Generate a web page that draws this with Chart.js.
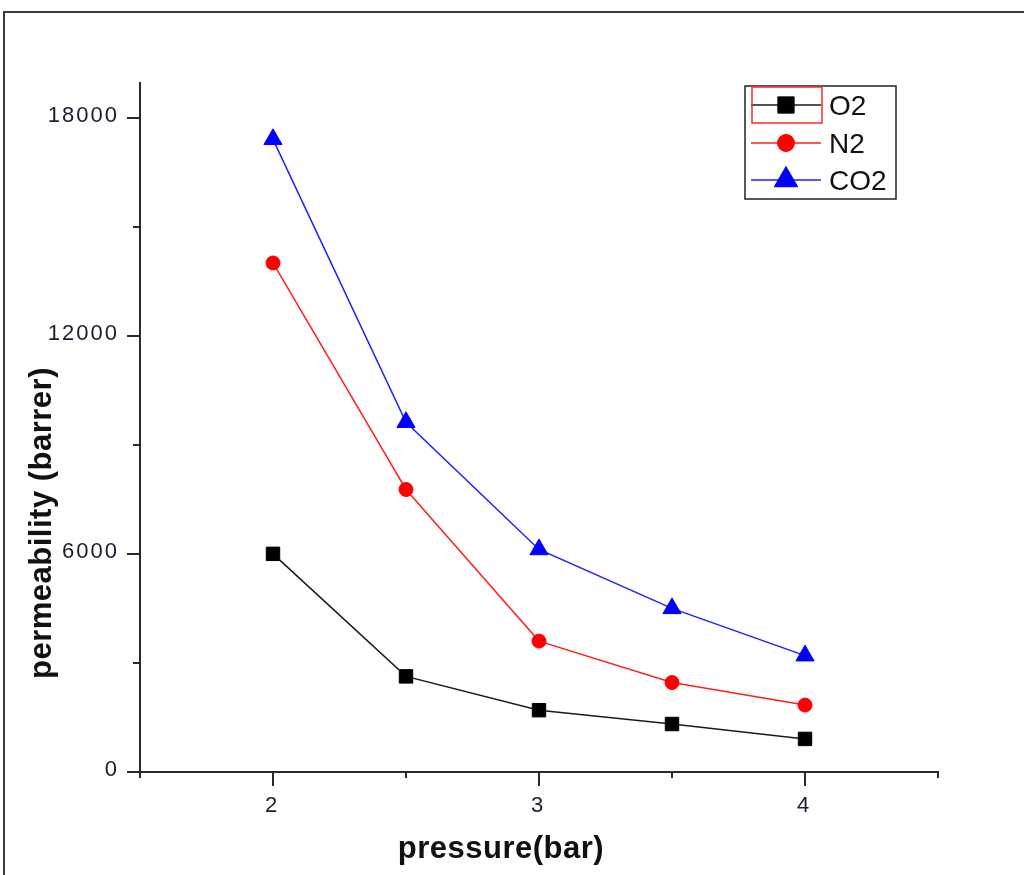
<!DOCTYPE html>
<html>
<head>
<meta charset="utf-8">
<script src="https://cdn.jsdelivr.net/npm/chart.js@4.4.0/dist/chart.umd.min.js"></script>
<style>
  html, body { margin: 0; padding: 0; background: #fff; overflow: hidden; }
  #wrap { position: relative; width: 1024px; height: 875px; }
  #frame { position: absolute; left: 3px; top: 11px; width: 1100px; height: 1000px;
           border-top: 2px solid #3a3a3a; border-left: 2px solid #3a3a3a; }
  #c { position: absolute; left: 0; top: 0; }
</style>
</head>
<body>
<div id="wrap">
  <div id="frame"></div>
  <canvas id="c" width="1024" height="875"></canvas>
</div>
<script>
// ---- data ----
const pressure = [2, 2.5, 3, 3.5, 4];
const seriesNames = ['O2', 'N2', 'CO2'];
const o2Values  = [6000, 2630, 1700, 1320, 910];
const n2Values  = [14000, 7770, 3600, 2460, 1840];
const co2Values = [17400, 9620, 6120, 4500, 3200];
const xRange = [1.5, 4.5];
const yRange = [0, 18950];
const xTickValues = [1.5, 2, 2.5, 3, 3.5, 4, 4.5];
const xMajorTicks = [2, 3, 4];
const yTickValues = [0, 3000, 6000, 9000, 12000, 15000, 18000];
const yMajorTicks = [0, 6000, 12000, 18000];
const xTitle = 'pressure(bar)';
const yTitle = 'permeability (barrer)';

const FONT = '"Liberation Sans", Arial, sans-serif';
const AXIS = '#2a2a2a';

function pts(vals) { return pressure.map((x, i) => ({ x: x, y: vals[i] })); }

const styles = [
  { color: '#000000', line: '#1a1a1a', pointStyle: 'rect', r: 9.5, lr: 11.5 },
  { color: '#ff0000', line: '#ff2020', pointStyle: 'circle', r: 7, lr: 8.5 },
  { color: '#0000ff', line: '#2020ff', pointStyle: 'triangle', r: 10.5, lr: 13.5 }
];
const allValues = [o2Values, n2Values, co2Values];

const datasets = allValues.map((vals, i) => ({
  label: seriesNames[i],
  data: pts(vals),
  borderColor: styles[i].line,
  backgroundColor: styles[i].color,
  borderWidth: 1.5,
  pointStyle: styles[i].pointStyle,
  pointRadius: styles[i].r,
  pointHoverRadius: styles[i].r,
  pointBackgroundColor: styles[i].color,
  pointBorderColor: styles[i].color,
  pointBorderWidth: 1,
  tension: 0,
  fill: false
}));

const decorPlugin = {
  id: 'decor',
  beforeDraw(chart) {
    chart.ctx.letterSpacing = '2px';
  },
  afterDraw(chart) {
    const ctx = chart.ctx;
    ctx.save();
    ctx.letterSpacing = '0px';
    // tick marks: major long, minor short
    const xs = chart.scales.x, ys = chart.scales.y;
    const area = chart.chartArea;
    ctx.fillStyle = AXIS;
    xTickValues.forEach(v => {
      const len = xMajorTicks.indexOf(v) !== -1 ? 14 : 6;
      const px = Math.round(xs.getPixelForValue(v));
      ctx.fillRect(px - 1, area.bottom, 2, len);
    });
    yTickValues.forEach(v => {
      const len = yMajorTicks.indexOf(v) !== -1 ? 13 : 7;
      const py = Math.round(ys.getPixelForValue(v));
      ctx.fillRect(area.left - len, py - 1, len, 2);
    });

    // axis titles
    ctx.fillStyle = '#111';
    ctx.font = 'bold 31px ' + FONT;
    ctx.letterSpacing = '0.5px';
    ctx.textAlign = 'center';
    ctx.textBaseline = 'alphabetic';
    ctx.fillText(xTitle, 501, 858);
    ctx.save();
    ctx.translate(51, 523);
    ctx.rotate(-Math.PI / 2);
    ctx.fillText(yTitle, 0, 0);
    ctx.restore();

    // legend
    ctx.letterSpacing = '0px';
    ctx.strokeStyle = '#222';
    ctx.lineWidth = 1.5;
    ctx.strokeRect(745, 86, 151, 113);
    const rows = [105, 143, 180];
    chart.data.datasets.forEach((ds, i) => {
      const y = rows[i];
      ctx.strokeStyle = ds.borderColor;
      ctx.lineWidth = 1.5;
      ctx.beginPath();
      ctx.moveTo(751, y);
      ctx.lineTo(821, y);
      ctx.stroke();
      ctx.fillStyle = ds.pointBackgroundColor;
      ctx.strokeStyle = ds.pointBorderColor;
      ctx.lineWidth = 1;
      Chart.helpers.drawPoint(ctx, { pointStyle: ds.pointStyle, radius: styles[i].lr, borderWidth: 1, rotation: 0 }, 786, y);
      ctx.fillStyle = '#111';
      ctx.font = '28px ' + FONT;
      ctx.textAlign = 'left';
      ctx.textBaseline = 'alphabetic';
      ctx.fillText(ds.label, 829, y + 10);
    });
    // selection rectangle around the first legend entry
    ctx.strokeStyle = '#ff2a2a';
    ctx.lineWidth = 1.5;
    ctx.strokeRect(752, 87, 70, 36);
    ctx.restore();
  }
};

const hidden = 'rgba(0,0,0,0)';

new Chart(document.getElementById('c'), {
  type: 'line',
  data: { datasets: datasets },
  plugins: [decorPlugin],
  options: {
    responsive: false,
    animation: false,
    devicePixelRatio: 1,
    layout: { padding: { left: 0, top: 83, right: 86, bottom: 0 } },
    plugins: { legend: { display: false }, tooltip: { enabled: false } },
    scales: {
      x: {
        type: 'linear',
        min: xRange[0], max: xRange[1],
        afterFit(s) { s.height = 103; },
        afterBuildTicks(s) { s.ticks = xTickValues.map(v => ({ value: v })); },
        border: { display: true, color: AXIS, width: 2 },
        grid: { display: true, drawOnChartArea: false, tickLength: 14, tickColor: hidden },
        ticks: {
          padding: 7, maxRotation: 0, autoSkip: false, labelOffset: -1,
          color: '#1c1c30', font: { family: FONT, size: 22 },
          callback: v => xMajorTicks.indexOf(v) !== -1 ? String(v) : ''
        }
      },
      y: {
        type: 'linear',
        min: yRange[0], max: yRange[1],
        afterFit(s) { s.width = 140; },
        afterBuildTicks(s) { s.ticks = yTickValues.map(v => ({ value: v })); },
        border: { display: true, color: AXIS, width: 2 },
        grid: { display: true, drawOnChartArea: false, tickLength: 13, tickColor: hidden },
        ticks: {
          padding: 8, autoSkip: false, labelOffset: -2,
          color: '#1c1c30', font: { family: FONT, size: 22 },
          callback: v => yMajorTicks.indexOf(v) !== -1 ? String(v) : ''
        }
      }
    }
  }
});
</script>
</body>
</html>
